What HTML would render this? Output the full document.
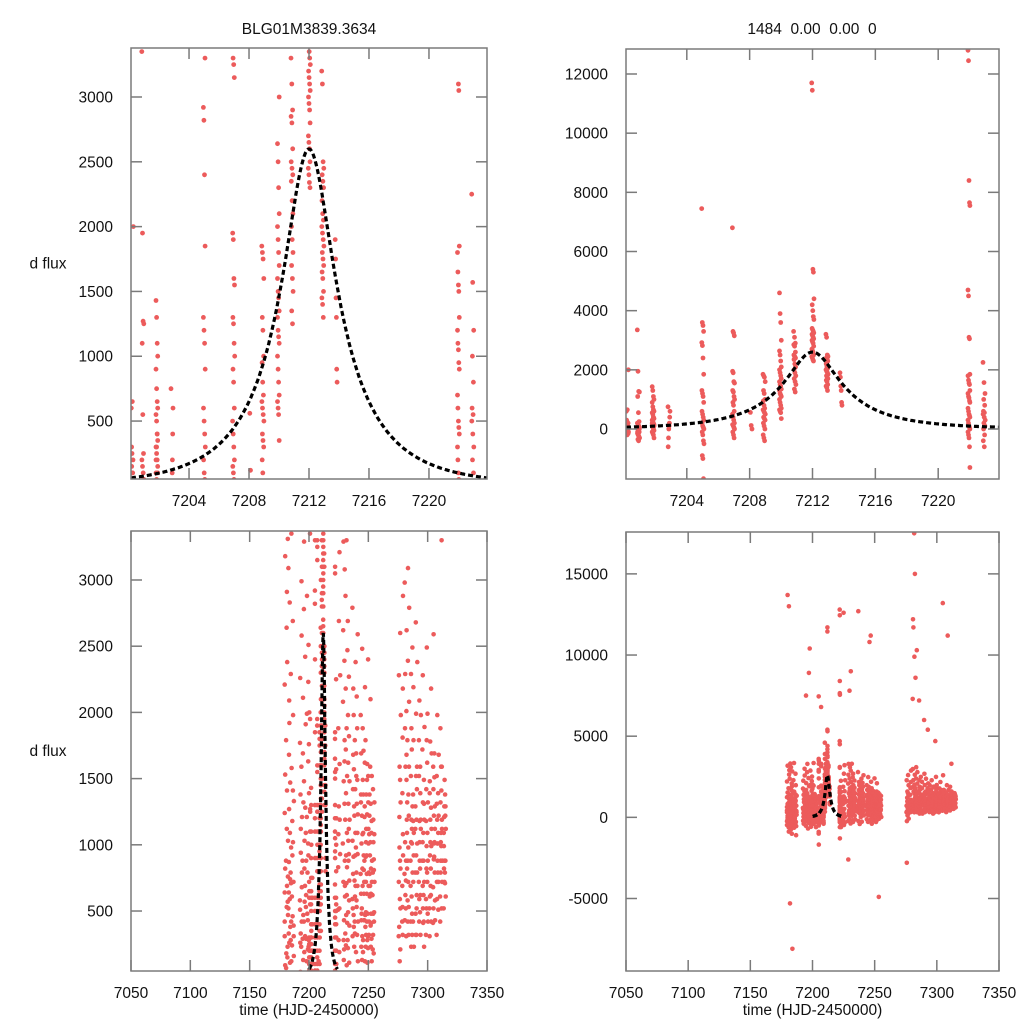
<!DOCTYPE html>
<html><head><meta charset="utf-8"><style>
html,body{margin:0;padding:0;background:#fff;width:1024px;height:1024px;overflow:hidden;}
svg{position:absolute;left:0;top:0;display:block;font-family:"Liberation Sans",Arial,sans-serif;}
</style></head><body><svg id="chart" width="1024" height="1024" viewBox="0 0 1024 1024"></svg><script>
// ---- data ----
const zoomNightTimes = [7200.15,7200.85,7201.8,7202.8,7204.95,7206.9,7208.05,7208.85,7209.9,7210.8,7211.95,7212.85,7213.75,7221.9,7222.85];
const zoomNightFlux = [
 [600,650,2000,250,200,150,100,50,0,-100,-200,-150,100,-50,300,0],
 [3350,1950,1270,1250,1100,550,250,200,150,100,50,0,-50,-100,-150,-200,-250,-300,-350,-400,0,-100,-200,50],
 [1430,1300,1100,1000,900,750,650,600,550,500,400,350,300,250,200,150,100,50,0,-50,-100,-150,-200,100,200,300,400,-300],
 [750,600,400,200,100,0,-300,-600],
 [7450,3600,3500,3300,2920,2820,2400,1850,1300,1200,1100,900,600,500,400,300,200,100,50,0,-100,-200,-400,-500,-900,-1000,-1680],
 [6800,3300,3250,3150,1950,1900,1600,1550,1300,1250,1100,1000,900,800,600,500,400,300,200,150,100,50,0,-100,-200,-300],
 [560,120,0],
 [1850,1800,1750,1600,1300,1200,1000,950,800,700,650,600,550,500,400,350,300,200,100,0,-200,-300,-400],
 [4600,3900,3600,3000,2640,2500,2300,2100,2000,1900,1800,1700,1600,1500,1450,1350,1300,1200,1150,1100,1000,900,800,700,650,600,550,350],
 [3300,3100,2900,2850,2800,2600,2500,2450,2400,2350,2200,2100,2000,1900,1800,1700,1600,1500,1350,1250],
 [11700,11450,5400,5300,4400,4200,4000,3800,3700,3400,3350,3300,3250,3200,3150,3100,3050,3000,2950,2900,2800,2700,2650,2600,2500,2450,2400,2340,2300],
 [3200,3100,2500,2450,2400,2350,2300,2200,2100,2050,2000,1950,1900,1850,1800,1750,1700,1650,1600,1500,1450,1400,1300],
 [1900,1750,1450,1300,900,800],
 [12800,12450,8400,7650,7550,4700,4500,3100,3050,1850,1800,1650,1550,1500,1300,1200,1100,1050,950,900,700,600,500,450,400,300,200,100,50,0,-100,-200,-300,-600,-1300],
 [2250,1570,1200,1000,800,600,550,500,400,300,200,100,0,-200,-400,-600]
];
const seasonNightTimes = [7179.5,7180.6,7181.5,7182.6,7183.4,7184.5,7185.6,7186.5,7192.3,7193.4,7194.5,7195.6,7196.6,7197.5,7198.6,7199.5,7224.5,7225.5,7228.5,7229.5,7230.5,7231.5,7232.5,7233.5,7236.5,7237.5,7238.5,7239.5,7240.5,7243.5,7244.5,7245.5,7246.5,7247.5,7248.5,7249.5,7250.5,7251.5,7252.5,7253.5,7254.5,7275.6,7276.6,7278.5,7280.5,7281.6,7282.6,7283.6,7285.5,7286.5,7287.6,7289.5,7290.5,7292.5,7293.5,7295.5,7296.5,7298.5,7299.5,7301.5,7302.5,7304.5,7305.5,7307.5,7308.5,7310.5,7311.5,7313.5,7314.5];
const seasonNightFlux = [
 [310,820,-240,1530,2210,90,-470,3180,640,-20,1240,-130,420,13700],
 [880,-330,1790,2640,70,530,-610,1120,180,2910,-880,690,13000],
 [1410,230,-90,570,2380,3310,-420,760,150,1030,-210,470,-5300],
 [520,1680,-730,2090,330,-140,870,3090,1270,20,-1010,640],
 [260,1090,-320,740,2830,380,-8100,1920,110,-520,1470,590],
 [790,120,-230,1580,420,2290,-640,980,280,3350,710],
 [610,-380,1180,240,2690,920,-90,1410,460,30],
 [1020,310,-540,1980,160,720,-280,1330,390,-1100],
 [580,1380,-210,330,2260,940,40,1770,-390,510,1120,260],
 [230,790,2580,-330,1210,420,1590,-80,680,2990],
 [880,130,1690,-520,470,2110,290,1320,-190,7500],
 [420,1030,-110,2780,570,190,1480,-690,820,3290],
 [690,1910,30,310,1090,-330,2420,530,8900,1280],
 [290,1210,-380,620,1990,120,880,2880,-220,10400],
 [480,1630,210,-120,790,2230,1010,430,-580],
 [920,-20,1390,280,2510,-290,720,1760,230],
 [510,1290,-180,830,2690,280,1880,-470,12600,1080],
 [190,930,-320,1610,520,2280,30,1190,3210],
 [1010,280,2620,-230,1480,720,2080,130,3290,-2600],
 [430,1790,-120,880,2390,610,1310,210,3080,7800,690,1630],
 [1190,240,2880,470,1720,-380,920,2180,330,1390,9000],
 [710,1520,90,2470,830,1880,-180,1090,3300,410,620],
 [280,1030,1980,-290,1310,490,2690,880,1620,220],
 [1120,390,1820,-130,730,2270,1190,110,930,1480,580],
 [590,1420,310,2180,-230,1030,1680,520,2790,780,12700],
 [910,230,1570,470,1220,-410,1980,730,1290,380],
 [420,1090,20,1790,690,1420,330,2380,920,610],
 [980,530,1520,190,2120,790,-270,1310,580,1690],
 [320,1230,690,1880,120,930,1490,420,2590,1090],
 [780,230,1320,480,1690,-120,1010,630,1980,430,1380],
 [520,1080,130,1490,820,-280,1880,310,1220,690,2480],
 [190,920,1380,430,-220,1090,630,1710,280,810,10800],
 [720,120,1210,470,1620,880,-90,1290,430,2190,11200],
 [380,1020,230,1380,720,-390,1120,490,1790,320,910],
 [920,280,1490,630,110,1230,780,-180,1610,420],
 [480,1120,220,790,1320,-120,690,1520,310,1010,2400],
 [320,780,1220,30,610,1380,420,920,-290,1080],
 [690,230,1020,480,1310,-190,820,390,1590,630,2100],
 [410,880,120,1090,620,1520,290,-4900,720,1180],
 [620,1190,320,790,-90,1020,480,1420,210],
 [180,720,1080,420,890,20,1320,490,810],
 [310,980,-230,720,1590,380,2280,120,1210,-2800],
 [590,1320,210,880,1980,520,1490,-80,820,2600],
 [420,1080,1810,690,2880,320,1390,920,2180,530],
 [780,2290,430,1590,1020,2980,620,1880,7300,11700,12200],
 [520,1490,880,2620,310,1190,2010,730,1680,17500,15000,9900],
 [1090,420,1790,820,2390,580,1320,3090,880,8600],
 [720,1590,320,980,2080,530,1380,2790,1220,10300],
 [880,230,1520,690,1190,2290,420,1880,1020,7200],
 [610,1290,320,1010,1720,790,2490,480,1120],
 [420,1090,1790,720,1380,230,920,2190,1180],
 [790,1520,480,1120,1990,320,1290,920,2680,6000],
 [320,1010,1590,620,1190,2380,790,1420,520],
 [720,1180,420,1790,1020,590,1520,880,2090,5400],
 [490,1120,320,1390,820,1980,1190,620,1590],
 [880,410,1320,690,1720,1090,520,2280,1020],
 [620,1190,230,1490,880,1890,720,1310,420],
 [320,990,1420,590,1790,820,1180,2490,520,4700],
 [790,1320,480,1090,1620,420,880,1990,720],
 [520,1190,920,1480,310,1020,1780,610,1390],
 [690,1120,420,1280,820,1690,990,2180,620],
 [410,890,1420,680,1220,520,1590,1010,2590,13200],
 [910,580,1290,1020,1690,430,1120,790,1510],
 [320,1010,1190,720,1520,880,1980,590,1310],
 [790,1220,510,1390,1010,1680,720,1090,11200],
 [610,1090,880,1320,420,1590,1020,790,1880],
 [990,720,1190,520,1410,880,1120,1590,3300],
 [520,880,1290,820,1090,1490,720,1210,990],
 [790,1120,610,1290,880,1220,1380,710]
];
// fit model parameters
const fitT0 = 7212.0, fitU0 = 0.3, fitTE = 5.9, fitFs = 1063, fitStart = 7200.13, fitEnd = 7223.87;
const zoomXTicks = [7204,7208,7212,7216,7220];
const seasonXTicks = [7050,7100,7150,7200,7250,7300,7350];
const tlYTicks = [500,1000,1500,2000,2500,3000];
const trYTicks = [0,2000,4000,6000,8000,10000,12000];
const blYTicks = [500,1000,1500,2000,2500,3000];
const brYTicks = [-5000,0,5000,10000,15000];

// ---- drawing ----
const NS='http://www.w3.org/2000/svg';
const svg=document.getElementById('chart');
function mk(tag,attrs,parent){const e=document.createElementNS(NS,tag);for(const k in attrs)e.setAttribute(k,attrs[k]);(parent||svg).appendChild(e);return e;}
function flatten(times,fluxes,span){const pts=[];times.forEach((t,i)=>fluxes[i].forEach((f,j)=>pts.push([t+((j*7)%fluxes[i].length)*span/Math.max(1,fluxes[i].length),f])));return pts;}
const zoomPts=flatten(zoomNightTimes,zoomNightFlux,0.15);
const seasonPts=zoomPts.concat(flatten(seasonNightTimes,seasonNightFlux,0.9));
function model(t){const u=Math.sqrt(fitU0*fitU0+Math.pow((t-fitT0)/fitTE,2));const A=(u*u+2)/(u*Math.sqrt(u*u+4));return fitFs*(A-1);}

const panels=[
 {name:'top-left',x0:131,x1:487,y0:48,y1:479,xmin:7200.13,xmax:7223.87,ymin:53,ymax:3378,xt:zoomXTicks,yt:tlYTicks,pts:zoomPts,r:2.4,ylabel:true,xlabel:false},
 {name:'top-right',x0:626,x1:999,y0:49,y1:479,xmin:7200.13,xmax:7223.87,ymin:-1690,ymax:12845,xt:zoomXTicks,yt:trYTicks,pts:zoomPts,r:2.4,ylabel:false,xlabel:false},
 {name:'bottom-left',x0:131,x1:487,y0:531,y1:971,xmin:7050,xmax:7350,ymin:47,ymax:3370,xt:seasonXTicks,yt:blYTicks,pts:seasonPts,r:2.3,ylabel:true,xlabel:true},
 {name:'bottom-right',x0:626,x1:999,y0:532,y1:971,xmin:7050,xmax:7350,ymin:-9467,ymax:17580,xt:seasonXTicks,yt:brYTicks,pts:seasonPts,r:2.3,ylabel:false,xlabel:true}
];
panels.forEach((p,pi)=>{
 const sx=v=>p.x0+(v-p.xmin)/(p.xmax-p.xmin)*(p.x1-p.x0);
 const sy=v=>p.y1-(v-p.ymin)/(p.ymax-p.ymin)*(p.y1-p.y0);
 const g=mk('g',{});
 
 
 const cp=mk('clipPath',{id:'clip'+pi},g);
 mk('rect',{x:p.x0,y:p.y0,width:p.x1-p.x0,height:p.y1-p.y0},cp);
 const dots=mk('g',{'clip-path':'url(#clip'+pi+')',fill:'#ec5b5b'},g);
 
 
 p.pts.forEach(pt=>{
  if(pt[0]<p.xmin-0.3||pt[0]>p.xmax+0.3||pt[1]<p.ymin-200||pt[1]>p.ymax+200) return;
  const c=mk('circle',{cx:sx(pt[0]).toFixed(1),cy:sy(pt[1]).toFixed(1),r:p.r},dots);
  
  
 });
 let d='';
 for(let k=0;k<=300;k++){const t=fitStart+(fitEnd-fitStart)*k/300;const m=Math.min(model(t),p.ymax);d+=(k?'L':'M')+sx(t).toFixed(1)+','+sy(Math.max(m,p.ymin)).toFixed(1);}
 const fit=mk('path',{d:d,fill:'none',stroke:'#000','stroke-width':3.2,'stroke-dasharray':'5,3','clip-path':'url(#clip'+pi+')'},g);
 
 
 const fr=mk('rect',{x:p.x0,y:p.y0,width:p.x1-p.x0,height:p.y1-p.y0,fill:'none',stroke:'#7a7a7a','stroke-width':1.5},g);
 
 
 p.xt.forEach(v=>{
  const x=sx(v);
  mk('line',{x1:x,x2:x,y1:p.y1,y2:p.y1-11,stroke:'#7a7a7a','stroke-width':1.5},g);
  mk('line',{x1:x,x2:x,y1:p.y0,y2:p.y0+11,stroke:'#7a7a7a','stroke-width':1.5},g);
  const tx=mk('text',{x:x,y:p.y1+27,'text-anchor':'middle','font-size':15.5,fill:'#111'},g);
  tx.textContent=v;
  
  
 });
 p.yt.forEach(v=>{
  const y=sy(v);
  mk('line',{x1:p.x0,x2:p.x0+11,y1:y,y2:y,stroke:'#7a7a7a','stroke-width':1.5},g);
  mk('line',{x1:p.x1,x2:p.x1-11,y1:y,y2:y,stroke:'#7a7a7a','stroke-width':1.5},g);
  const ty=mk('text',{x:p.x0-18,y:y+5.5,'text-anchor':'end','font-size':15.5,fill:'#111'},g);
  ty.textContent=v;
  
  
 });
 if(p.ylabel){
  const yl=mk('text',{x:48,y:(p.y0+p.y1)/2+5,'text-anchor':'middle','font-size':15.5,fill:'#111'},g);
  yl.textContent='d flux';
  
  
 }
 if(p.xlabel){
  const xl=mk('text',{x:(p.x0+p.x1)/2,y:1015,'text-anchor':'middle','font-size':15.5,fill:'#111'},g);
  xl.textContent='time (HJD-2450000)';
  
  
 }
});
const t1=mk('text',{x:309,y:34,'text-anchor':'middle','font-size':15.5,fill:'#111'});
t1.textContent='BLG01M3839.3634';


const t2=mk('text',{x:812,y:34,'text-anchor':'middle','font-size':15.5,fill:'#111',style:'white-space:pre'});
t2.textContent='1484  0.00  0.00  0';


</script></body></html>
